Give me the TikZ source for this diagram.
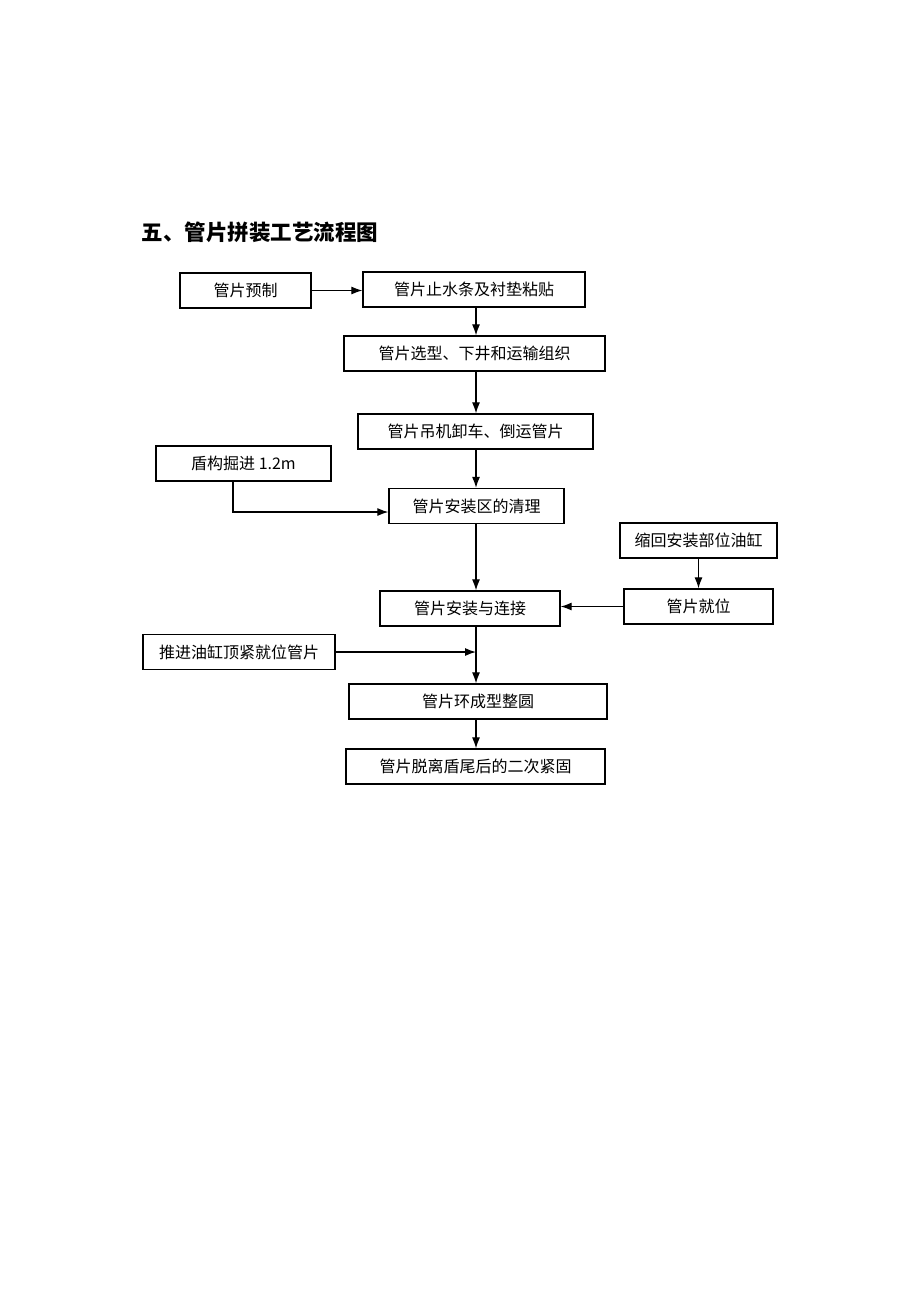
\documentclass[tikz,border=0pt]{standalone}
\usepackage{fontspec}
\newfontfamily\cjk{Noto Sans CJK SC}
\usetikzlibrary{arrows.meta}
\tikzset{
  flowbox/.style={draw, line width=1.3pt, minimum height=35pt, inner sep=2pt,
    font=\cjk\fontsize{16}{19}\selectfont},
  flowarrow/.style={line width=1.2pt, -{Latex[length=11pt,width=8pt]}}
}
\newcommand{\boxat}[4]{%
\node[flowbox, minimum width=#3pt] (#1) at (#2) {#4};
}

\begin{document}
\begin{tikzpicture}[x=1pt,y=-1pt]
\useasboundingbox (0,0) rectangle (920,1302);

\node[anchor=west, font=\cjk\bfseries\fontsize{21.5}{24}\selectfont] (title) at (138,232) {五、管片拼装工艺流程图};

\coordinate (spine) at (476,0);
\coordinate (jjturn) at (233,512);

\boxat{yuzhi}{245.5,290.5}{131}{管片预制}
\boxat{zhishui}{474,289.5}{222}{管片止水条及衬垫粘贴}
\boxat{xuanxing}{474.5,353.5}{261}{管片选型、下井和运输组织}
\boxat{diaoji}{475.5,431.5}{235}{管片吊机卸车、倒运管片}
\boxat{juejin}{243.5,463.5}{175}{盾构掘进 1.2m}
\boxat{qingli}{476.5,506}{175}{管片安装区的清理}
\boxat{suohui}{698.5,540.5}{157}{缩回安装部位油缸}
\boxat{jiuwei}{698.5,606.5}{149}{管片就位}
\boxat{anzhuang}{470,608.5}{180}{管片安装与连接}
\boxat{tuijin}{239,652}{192}{推进油缸顶紧就位管片}
\boxat{zhengyuan}{478,701.5}{258}{管片环成型整圆}
\boxat{jingu}{475.5,766.5}{259}{管片脱离盾尾后的二次紧固}

\draw[flowarrow] (yuzhi.east) -- (yuzhi.east -| zhishui.west);
\draw[flowarrow] (zhishui.south -| spine) -- (xuanxing.north -| spine);
\draw[flowarrow] (xuanxing.south -| spine) -- (diaoji.north -| spine);
\draw[flowarrow] (diaoji.south -| spine) -- (qingli.north -| spine);
\draw[flowarrow] (juejin.south -| jjturn) |- (qingli.west |- jjturn);
\draw[flowarrow] (qingli.south -| spine) -- (anzhuang.north -| spine);
\draw[flowarrow] (suohui) -- (jiuwei);
\draw[flowarrow] (jiuwei.west) -- (anzhuang.east |- jiuwei.west);
\draw[flowarrow] (anzhuang.south -| spine) -- (zhengyuan.north -| spine);
\draw[flowarrow] (tuijin.east) -- (tuijin.east -| spine);
\draw[flowarrow] (zhengyuan.south -| spine) -- (jingu.north -| spine);

\end{tikzpicture}
\end{document}
